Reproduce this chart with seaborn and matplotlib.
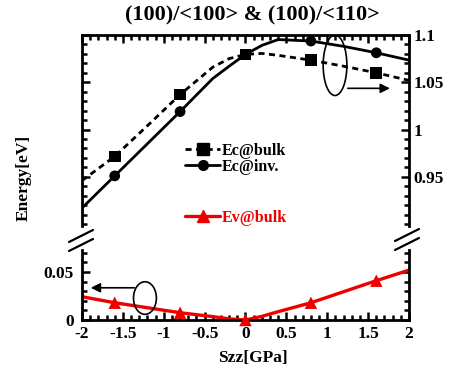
import numpy as np
import pandas as pd
import matplotlib
matplotlib.use("Agg")
import matplotlib.pyplot as plt
from matplotlib.lines import Line2D
from matplotlib.patches import Ellipse
from matplotlib.ticker import MultipleLocator
import seaborn as sns

# ---- data ----
x_line = [-2.0, -1.6, -1.2, -0.8, -0.4, -0.2, 0.0, 0.2, 0.4, 0.8, 1.2, 1.6, 2.0]
ec_bulk_line = [0.946, 0.9716, 1.004, 1.037, 1.066, 1.075, 1.0795, 1.0805, 1.0785, 1.0734, 1.067, 1.060, 1.052]
ec_inv_line = [0.917, 0.951, 0.985, 1.019, 1.054, 1.067, 1.0795, 1.089, 1.0952, 1.0936, 1.088, 1.0812, 1.0734]
ev_bulk_line = [0.0243, 0.018, 0.0128, 0.0076, 0.0035, 0.0012, 0.0, 0.0038, 0.0087, 0.018, 0.0295, 0.041, 0.052]

x_mark = [-1.6, -0.8, 0.0, 0.8, 1.6]
ec_bulk_mark = [0.9716, 1.037, 1.0795, 1.0734, 1.060]
ec_inv_mark = [0.951, 1.019, 1.0795, 1.0936, 1.0812]
ev_bulk_mark = [0.018, 0.0076, 0.0, 0.018, 0.041]

series_names = ["Ec@bulk", "Ec@inv.", "Ev@bulk"]
x_ticks = [-2, -1.5, -1, -0.5, 0, 0.5, 1, 1.5, 2]
x_ticklabels = ["-2", "-1.5", "-1", "-0.5", "0", "0.5", "1", "1.5", "2"]
top_ticks = [0.95, 1.0, 1.05, 1.1]
top_ticklabels = ["0.95", "1", "1.05", "1.1"]
bot_ticks = [0.0, 0.05]
bot_ticklabels = ["0", "0.05"]
title = "(100)/<100> & (100)/<110>"

sns.set_style("ticks", {"axes.edgecolor": "black", "xtick.color": "black", "ytick.color": "black",
                        "text.color": "black", "axes.labelcolor": "black"})
plt.rcParams["font.family"] = ["Liberation Serif", "DejaVu Serif"]
plt.rcParams["font.weight"] = "bold"

W, H = 452, 376
fig = plt.figure(figsize=(W / 100, H / 100), dpi=100)

def fx(px):
    return px / W

def fy(py):
    return 1 - py / H

L, R = 82, 409
ax_top = fig.add_axes([fx(L), fy(226), fx(R) - fx(L), fy(35) - fy(226)])
ax_bot = fig.add_axes([fx(L), fy(320), fx(R) - fx(L), fy(250) - fy(320)])

df_line = pd.DataFrame({"x": x_line, "bulk": ec_bulk_line, "inv": ec_inv_line, "ev": ev_bulk_line})
df_mark = pd.DataFrame({"x": x_mark, "bulk": ec_bulk_mark, "inv": ec_inv_mark, "ev": ev_bulk_mark})

lw = 2.0
dash = (0, (2.2, 1.6))
sns.lineplot(data=df_line, x="x", y="bulk", ax=ax_top, color="black", lw=lw, linestyle=dash)
sns.lineplot(data=df_line, x="x", y="inv", ax=ax_top, color="black", lw=lw)
sns.scatterplot(data=df_mark, x="x", y="bulk", ax=ax_top, color="black", marker="s", s=70, edgecolor="none", zorder=5)
sns.scatterplot(data=df_mark, x="x", y="inv", ax=ax_top, color="black", marker="o", s=60, edgecolor="none", zorder=5)

red = "#ee0000"
sns.lineplot(data=df_line, x="x", y="ev", ax=ax_bot, color=red, lw=2.4)
sns.scatterplot(data=df_mark, x="x", y="ev", ax=ax_bot, color=red, marker="^", s=80, edgecolor="none", zorder=5, clip_on=False)

tick_font = dict(fontsize=12.5, fontweight="bold")

for ax in (ax_top, ax_bot):
    ax.set_xlim(-2, 2)
    ax.set_xlabel("")
    ax.set_ylabel("")
    for s in ax.spines.values():
        s.set_linewidth(2.0)
        s.set_color("black")
    ax.xaxis.set_minor_locator(MultipleLocator(0.1))
    ax.yaxis.set_minor_locator(MultipleLocator(0.01))
    ax.tick_params(which="both", direction="in", width=1.8, color="black",
                   top=True, right=True, left=True, bottom=True)
    ax.tick_params(which="major", length=6)
    ax.tick_params(which="minor", length=3.5)
    ax.set_xticks(x_ticks)

# top panel
ax_top.set_ylim(0.898, 1.1)
ax_top.spines["bottom"].set_visible(False)
ax_top.tick_params(axis="x", which="both", bottom=False, labelbottom=False)
ax_top.set_yticks(top_ticks)
ax_top.yaxis.tick_right()
ax_top.tick_params(axis="y", which="both", left=True, right=True, labelleft=False, labelright=True, pad=3)
ax_top.set_yticklabels(top_ticklabels, **tick_font)

# bottom panel
ax_bot.set_ylim(0.0, 0.073)
ax_bot.spines["top"].set_visible(False)
ax_bot.tick_params(axis="x", which="both", top=False)
ax_bot.set_yticks(bot_ticks)
ax_bot.set_yticklabels(bot_ticklabels, **tick_font)
ax_bot.set_xticklabels(x_ticklabels, **tick_font)
ax_bot.tick_params(axis="y", which="both", labelright=False, pad=6)
ax_bot.tick_params(axis="x", pad=4)

# annotations: ellipses and arrows
ax_top.add_patch(Ellipse((1.095, 1.068), 0.29, 0.064, fill=False, lw=1.2, ec="black", zorder=6))
ax_top.annotate("", xy=(1.80, 1.0436), xytext=(1.217, 1.0436),
                arrowprops=dict(arrowstyle="-|>", color="black", lw=1.2, mutation_scale=14))
ax_bot.add_patch(Ellipse((-1.23, 0.0229), 0.28, 0.034, fill=False, lw=1.2, ec="black", zorder=6))
ax_bot.annotate("", xy=(-1.927, 0.0336), xytext=(-1.327, 0.0336),
                arrowprops=dict(arrowstyle="-|>", color="black", lw=1.2, mutation_scale=14))

# legends
h_bulk = Line2D([], [], color="black", lw=lw, linestyle=dash, marker="s", markersize=8)
h_inv = Line2D([], [], color="black", lw=lw, marker="o", markersize=7)
leg1 = ax_top.legend([h_bulk, h_inv], series_names[:2], loc="center left",
                     bbox_to_anchor=(0.315, 0.351), frameon=False, handlelength=2.2,
                     handletextpad=0.12, borderpad=0, borderaxespad=0, labelspacing=0.0,
                     prop=dict(size=11.5, weight="bold"))
ax_top.add_artist(leg1)
h_ev = Line2D([], [], color=red, lw=2.4, marker="^", markersize=8)
leg2 = ax_top.legend([h_ev], series_names[2:], loc="center left",
                     bbox_to_anchor=(0.315, 0.042), frameon=False, handlelength=2.2,
                     handletextpad=0.12, borderpad=0, borderaxespad=0,
                     prop=dict(size=11.5, weight="bold"))
for t in leg2.get_texts():
    t.set_color(red)

# break marks
def brk(x0, y0, x1, y1):
    fig.add_artist(Line2D([fx(x0), fx(x1)], [fy(y0), fy(y1)], transform=fig.transFigure,
                          color="black", lw=1.6))

brk(69, 242, 93, 230)
brk(69, 251, 93, 239)
brk(395, 241, 419, 229)
brk(395, 250, 419, 238)

fig.text(fx(252), fy(15), title, ha="center", va="center", fontsize=16, fontweight="bold")
fig.text(fx(24), fy(178), "Energy[eV]", ha="center", va="center", rotation=90, fontsize=12.5, fontweight="bold")
fig.text(fx(253), fy(358), "Szz[GPa]", ha="center", va="center", fontsize=12.5, fontweight="bold")

fig.savefig("out.png", dpi=100)
